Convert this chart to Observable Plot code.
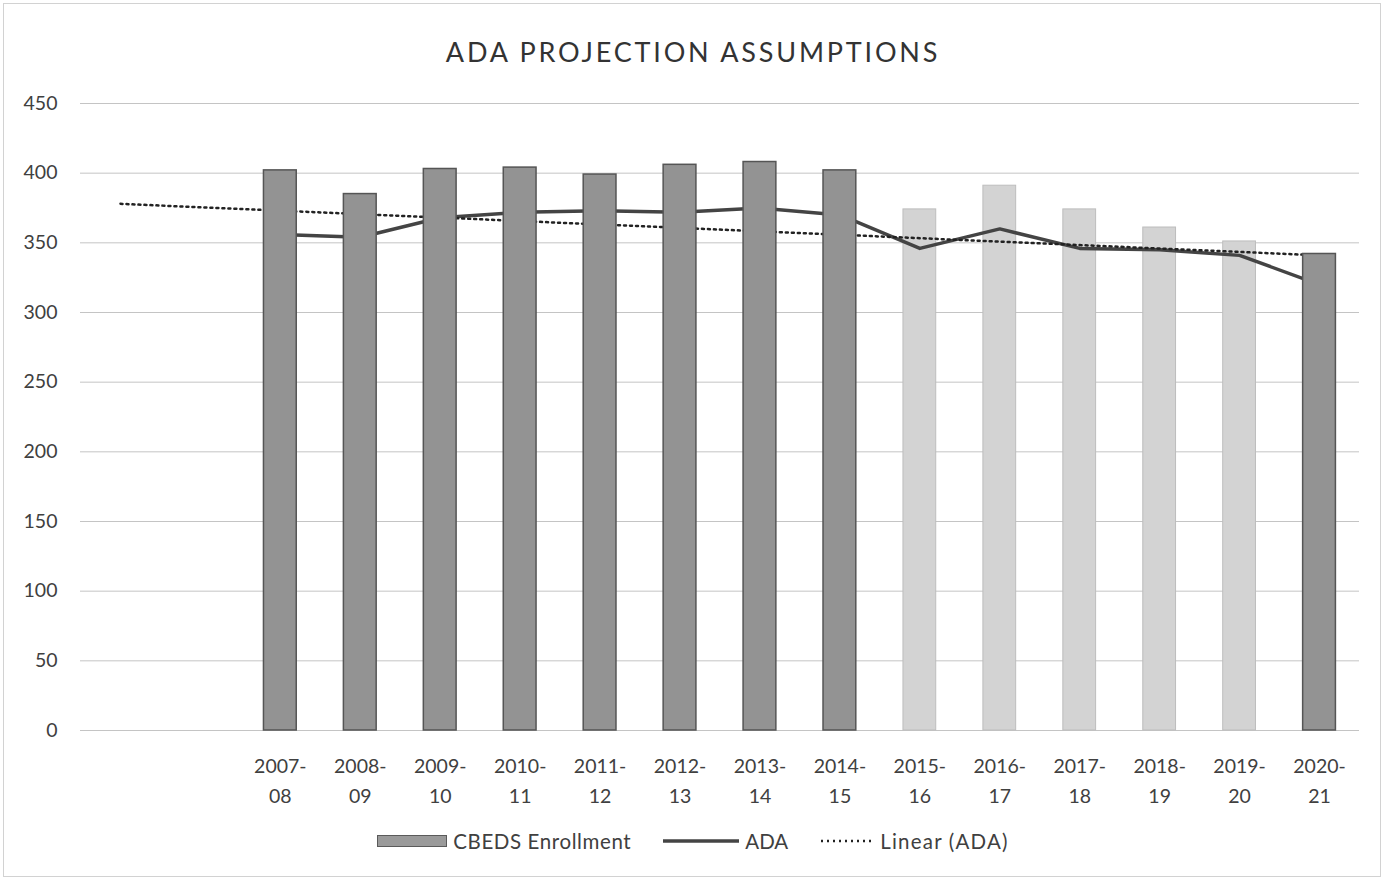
<!DOCTYPE html>
<html>
<head>
<meta charset="utf-8">
<script src="https://cdn.jsdelivr.net/npm/d3@7"></script>
<script src="https://cdn.jsdelivr.net/npm/@observablehq/plot@0.6"></script>
<style>
  html, body { margin: 0; padding: 0; background: #fff; }
  body { font-family: Lato, "Open Sans", sans-serif; color: #404040; }
  #frame { position: relative; width: 1386px; height: 882px; overflow: hidden; }
  #border { position: absolute; left: 3px; top: 3px; width: 1378px; height: 874px; border: 1px solid #d2d2d2; box-sizing: border-box; }
  #title { position: absolute; left: 0; width: 1386px; top: 34px; text-align: center; font-size: 27px; color: #333; letter-spacing: 2.8px; line-height: 36px; }
  #chart { position: absolute; left: 0; top: 80px; }
  #legend { position: absolute; left: 0; width: 1386px; top: 829px; display: flex; justify-content: center; align-items: center; font-size: 20.5px; color: #404040; gap: 0; }
  .item { display: flex; align-items: center; margin: 0 16px; }
  .item svg { margin-right: 6px; }
</style>
</head>
<body>
<div id="frame">
  <div id="border"></div>
  <div id="title">ADA PROJECTION ASSUMPTIONS</div>
  <div id="chart"></div>
  <div id="legend">
    <div class="item"><svg width="70" height="14"><rect x="0.5" y="1.5" width="69" height="11" fill="#9a9a9a" stroke="#5a5a5a"/></svg><span style="letter-spacing:0.6px">CBEDS Enrollment</span></div>
    <div class="item"><svg width="76" height="14"><line x1="0" y1="7" x2="76" y2="7" stroke="#444" stroke-width="3.5"/></svg>ADA</div>
    <div class="item"><svg width="54" height="14"><line x1="1" y1="7" x2="54" y2="7" stroke="#222" stroke-width="2.5" stroke-dasharray="2,4"/></svg><span style="letter-spacing:1.2px">Linear (ADA)</span></div>
  </div>
</div>
<script>
// Categories (two leading blank slots as in the source chart)
const categories = ["blank1", "blank2", "2007-08", "2008-09", "2009-10", "2010-11", "2011-12", "2012-13", "2013-14", "2014-15", "2015-16", "2016-17", "2017-18", "2018-19", "2019-20", "2020-21"];
const tickLabels = ["", "", "2007-\n08", "2008-\n09", "2009-\n10", "2010-\n11", "2011-\n12", "2012-\n13", "2013-\n14", "2014-\n15", "2015-\n16", "2016-\n17", "2017-\n18", "2018-\n19", "2019-\n20", "2020-\n21"];
// CBEDS Enrollment bars
const enrollment = [null, null, 402, 385, 403, 404, 399, 406, 408, 402, 374, 391, 374, 361, 351, 342];
// projected (light) vs actual (dark)
const projected = [false, false, false, false, false, false, false, false, false, false, true, true, true, true, true, false];
// ADA line
const ada = [null, null, 356, 354, 368, 372, 373, 372, 375, 370, 346, 360, 346, 345, 341, 320];
// Linear (ADA) trendline endpoints
const trendCategories = ["blank1", "2020-21"];
const trendValues = [378, 341];
const yTicks = [0, 50, 100, 150, 200, 250, 300, 350, 400, 450];

const rows = categories.map((c, i) => ({cat: c, enrollment: enrollment[i], projected: projected[i], ada: ada[i]}));
const barRows = rows.filter(d => d.enrollment != null);
const adaRows = rows.filter(d => d.ada != null);
const trendRows = trendCategories.map((c, i) => ({cat: c, v: trendValues[i]}));
const labelOf = new Map(categories.map((c, i) => [c, tickLabels[i]]));

const chart = Plot.plot({
  width: 1386,
  height: 730,
  marginTop: 23,
  marginBottom: 80,
  marginLeft: 80,
  marginRight: 27,
  style: {fontFamily: "Lato, 'Open Sans', sans-serif", color: "#404040", background: "transparent"},
  x: {domain: categories, paddingInner: 0.59, paddingOuter: 0.295, align: 0.5, round: false},
  y: {domain: [0, 450]},
  marks: [
    Plot.gridY(yTicks, {stroke: "#c4c4c4", strokeOpacity: 1, strokeWidth: 1}),
    Plot.axisY(yTicks, {tickSize: 0, tickPadding: 23, fontSize: 19.5, label: null, fill: "#404040"}),
    Plot.axisX({tickSize: 0, tickPadding: 22, fontSize: 19.5, lineHeight: 1.5, label: null, fill: "#404040", tickFormat: d => labelOf.get(d)}),
    Plot.barY(barRows.filter(d => d.projected), {x: "cat", y: "enrollment", fill: "#d3d3d3", stroke: "#bdbdbd", strokeWidth: 1}),
    Plot.line(adaRows, {x: "cat", y: "ada", stroke: "#444", strokeWidth: 3.5, strokeLinejoin: "round"}),
    Plot.line(trendRows, {x: "cat", y: "v", stroke: "#222", strokeWidth: 2.5, strokeDasharray: "2,4"}),
    Plot.barY(barRows.filter(d => !d.projected), {x: "cat", y: "enrollment", fill: "#939393", stroke: "#555", strokeWidth: 1.5})
  ]
});
document.getElementById("chart").appendChild(chart);
</script>
</body>
</html>
